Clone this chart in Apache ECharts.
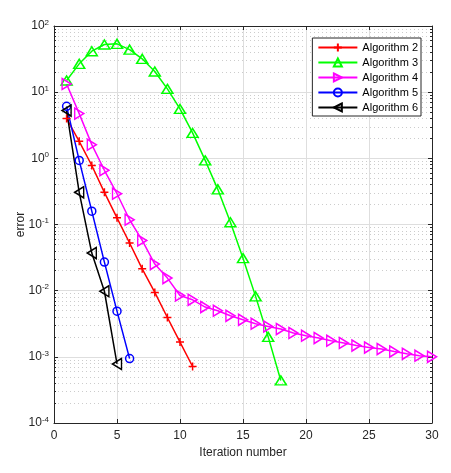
<!DOCTYPE html>
<html>
<head>
<meta charset="utf-8">
<title>error vs iteration</title>
<script src="https://cdn.jsdelivr.net/npm/echarts@6/dist/echarts.min.js"></script>
<style>
  html, body { margin: 0; padding: 0; background: #fff; }
  #chart { width: 451px; height: 473px; }
</style>
</head>
<body>
<div id="chart"></div>
<script>
(function () {
    'use strict';

    // Error per iteration.
    var names = ['Algorithm 2', 'Algorithm 3', 'Algorithm 4', 'Algorithm 5', 'Algorithm 6'];
    var alg2 = [4.0, 1.81, 0.78, 0.306, 0.126, 0.0525, 0.0214, 0.0094, 0.00393, 0.00167, 0.000714];
    var alg3 = [15, 26.8, 41.6, 52.5, 53.7, 44, 31.9, 20.5, 11.2, 5.58, 2.42, 0.93, 0.34, 0.108,
        0.031, 0.0082, 0.002, 0.00044];
    var alg4 = [13.3, 4.74, 1.61, 0.66, 0.292, 0.118, 0.0575, 0.0252, 0.0155, 0.00847, 0.00728,
        0.00565, 0.00497, 0.00417, 0.00363, 0.00316, 0.00288, 0.00263, 0.00229, 0.00209, 0.00192,
        0.00175, 0.00162, 0.00148, 0.00138, 0.00131, 0.0012, 0.00111, 0.00104, 0.001];
    var alg5 = [6.1, 0.93, 0.159, 0.027, 0.0049, 0.00094];
    var alg6 = [5.27, 0.306, 0.037, 0.0098, 0.00078];

    var COLORS = ['#ff0000', '#00ff00', '#ff00ff', '#0000ff', '#000000'];
    var SYMBOLS = [
        'path://M0,5L10,5M5,0L5,10',
        'path://M5,0L10,9L0,9Z',
        'path://M0,0L9,5L0,10Z',
        'circle',
        'path://M9,0L0,5L9,10Z'
    ];
    var SIZES = [[8, 8], [11, 9], [9, 11], [8, 8], [9, 11]];
    var TEXT = '#262626';
    var FONT = '"Liberation Sans", Arial, sans-serif';

    /** Pair each value with its iteration number (1-based). */
    function toPoints(vals) {
        return vals.map(function (v, i) { return [i + 1, v]; });
    }

    function powLabel(v) {
        var e = Math.round(Math.log(v) / Math.LN10);
        return '10{sup|' + e + '}';
    }

    var series = [alg2, alg3, alg4, alg5, alg6].map(function (vals, i) {
        return {
            name: names[i],
            type: 'line',
            data: toPoints(vals),
            symbol: SYMBOLS[i],
            symbolSize: SIZES[i],
            showAllSymbol: true,
            lineStyle: { color: COLORS[i], width: 1.5 },
            itemStyle: { color: 'rgba(255,255,255,0)', borderColor: COLORS[i], borderWidth: 1.5 },
            emphasis: { disabled: true },
            animation: false
        };
    });

    var tickCommon = { inside: true, length: 4, lineStyle: { color: TEXT } };

    var chart = echarts.init(document.getElementById('chart'));
    chart.setOption({
        backgroundColor: '#fff',
        animation: false,
        grid: { left: 54, right: 19, top: 26, bottom: 50, containLabel: false, outerBoundsMode: 'none' },
        legend: {
            orient: 'vertical',
            right: 30,
            top: 38,
            data: names,
            itemWidth: 39,
            itemHeight: 10,
            itemGap: 4,
            itemTextGap: 4,
            padding: [4, 3, 3, 5],
            borderColor: TEXT,
            borderWidth: 1,
            backgroundColor: '#fff',
            textStyle: { color: '#000', fontSize: 11, fontFamily: FONT }
        },
        xAxis: [{
            type: 'value',
            min: 0, max: 30, interval: 5,
            name: 'Iteration number',
            nameLocation: 'middle',
            nameGap: 24,
            nameMoveOverlap: false,
            nameTextStyle: { color: TEXT, fontSize: 12, fontFamily: FONT },
            axisLine: { show: true, lineStyle: { color: TEXT, width: 1 } },
            axisTick: tickCommon,
            axisLabel: { color: TEXT, fontSize: 12, fontFamily: FONT, margin: 7 },
            splitLine: { show: true, lineStyle: { color: '#dedede', width: 1 } }
        }, {
            type: 'value',
            position: 'top',
            min: 0, max: 30, interval: 5,
            axisLine: { show: true, onZero: false, lineStyle: { color: TEXT, width: 1 } },
            axisTick: tickCommon,
            axisLabel: { show: false },
            splitLine: { show: false }
        }],
        yAxis: [{
            type: 'log',
            logBase: 10,
            min: 1e-4, max: 100,
            name: 'error',
            nameLocation: 'middle',
            nameGap: 27,
            nameMoveOverlap: false,
            nameTextStyle: { color: TEXT, fontSize: 12, fontFamily: FONT },
            axisLine: { show: true, lineStyle: { color: TEXT, width: 1 } },
            axisTick: tickCommon,
            minorTick: { show: true, splitNumber: 9, length: 2, lineStyle: { color: TEXT } },
            axisLabel: {
                color: TEXT, fontSize: 12, fontFamily: FONT, margin: 5,
                formatter: powLabel,
                rich: { sup: { fontSize: 8, verticalAlign: 'top', padding: [0, 0, 7, 0], color: TEXT, fontFamily: FONT } }
            },
            splitLine: { show: true, lineStyle: { color: '#dedede', width: 1 } },
            minorSplitLine: { show: true, lineStyle: { color: '#cccccc', width: 1, type: [1, 3] } }
        }, {
            type: 'log',
            logBase: 10,
            position: 'right',
            min: 1e-4, max: 100,
            axisLine: { show: true, onZero: false, lineStyle: { color: TEXT, width: 1 } },
            axisTick: tickCommon,
            minorTick: { show: true, splitNumber: 9, length: 2, lineStyle: { color: TEXT } },
            axisLabel: { show: false },
            splitLine: { show: false }
        }],
        series: series
    });
})();
</script>
</body>
</html>
